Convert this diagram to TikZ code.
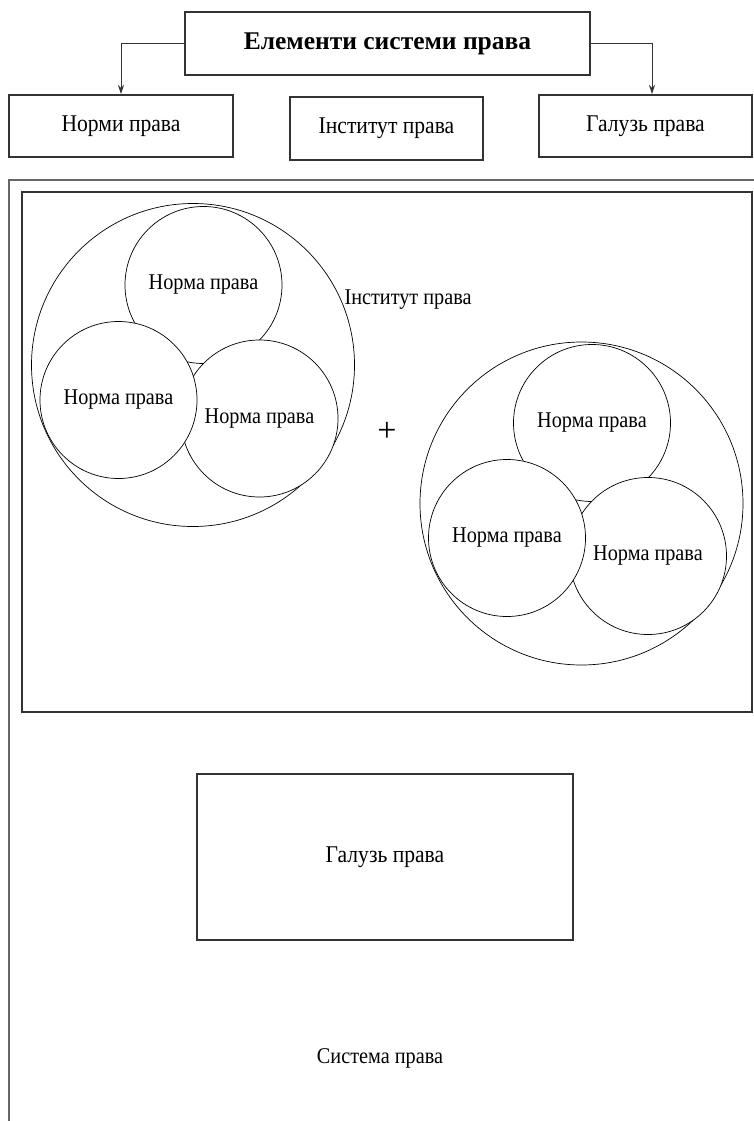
\documentclass[tikz,border=0pt]{standalone}
\usepackage{fontspec}
\setmainfont{Liberation Serif}
\newfontfamily\condfont[FakeStretch=0.9]{Liberation Serif}
\usetikzlibrary{arrows.meta}
\begin{document}
\begin{tikzpicture}[x=1pt,y=-1pt,
  txt/.style={font=\condfont\fontsize{22.5}{26}\selectfont},
  btxt/.style={font=\condfont\fontsize{24}{28}\selectfont},
  box/.style={draw=black!80,line width=1.1pt,inner sep=0pt,btxt},
  norm/.style={circle,draw,line width=0.7pt,fill=white,minimum size=157pt,inner sep=0pt,txt},
  big/.style={circle,draw,line width=0.7pt,minimum size=323pt,inner sep=0pt},
  arr/.style={draw=black!80,line width=0.9pt,-{Stealth[length=9pt,width=6pt]}}]
\useasboundingbox (0,0) rectangle (754,1121);
% top boxes
\node[box,minimum width=405pt,minimum height=63pt,font=\fontsize{25.5}{28}\selectfont\bfseries] (t) at (387.5,43.5) {Елементи системи права};
\node[box,minimum width=224pt,minimum height=62pt] (b1) at (121,126) {Норми права};
\node[box,minimum width=193pt,minimum height=63pt] (b2) at (386.5,128.5) {Інститут права};
\node[box,minimum width=213pt,minimum height=62pt] (b3) at (645.5,126) {Галузь права};
\coordinate (r3) at (652,94);
\coordinate (l1) at (121,94);
\draw[arr] (t.west) -| (l1);
\draw[arr] (t.east) -| (r3);
% outer frame
\coordinate (o1) at (9,1121);
\coordinate (o2) at (9,180);
\coordinate (o3) at (754,180);
\draw[black!60,line width=1.5pt] (o1) -- (o2) -- (o3);
% inner frame
\node[draw=black!80,line width=1.1pt,minimum width=730pt,minimum height=520pt,inner sep=0pt] (inner) at (387,452) {};
% institute 1
\node[big] (c1) at (193,365) {};
\node[norm] (c1t) at (203.5,285) {Норма права};
\node[norm] (c1r) at (259.5,418.5) {Норма права};
\node[norm] (c1l) at (118.5,400) {Норма права};
\node[txt,anchor=west] (inst) at (341,300) {Інститут права};
\node[font=\fontsize{34}{36}\selectfont] (plus) at (387,432) {+};
% institute 2
\node[big] (c2) at (581.5,503.5) {};
\node[norm] (c2t) at (592,423) {Норма права};
\node[norm] (c2r) at (648,556) {Норма права};
\node[norm] (c2l) at (507,538) {Норма права};
% branch
\node[box,minimum width=376pt,minimum height=166pt] (g) at (385,857) {Галузь права};
\node[txt] (sys) at (380,1058) {Система права};
\end{tikzpicture}
\end{document}
